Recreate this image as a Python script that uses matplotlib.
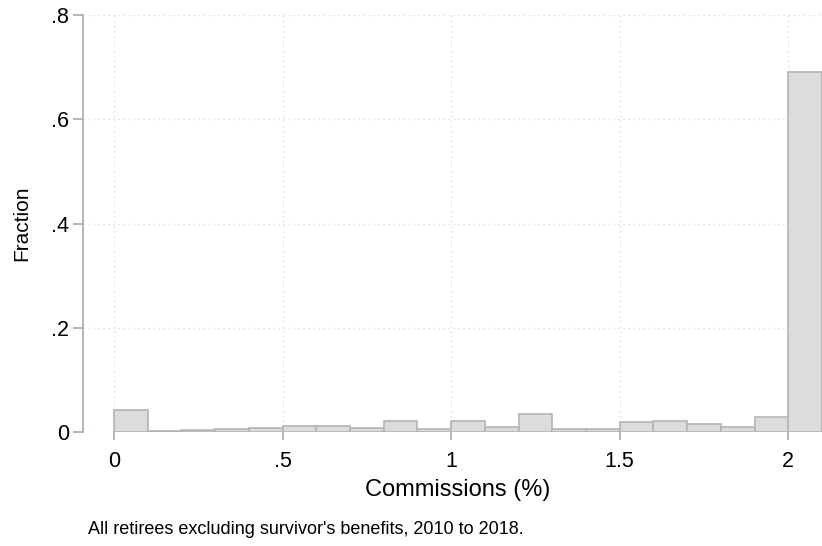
import matplotlib
matplotlib.use("Agg")
import matplotlib.pyplot as plt
import numpy as np

plt.rcParams['font.family'] = ['Liberation Sans', 'DejaVu Sans']

bin_edges = [round(0.1 * i, 1) for i in range(22)]
fractions = [0.042, 0.001, 0.003, 0.005, 0.007, 0.011, 0.011, 0.007, 0.021, 0.005,
             0.022, 0.009, 0.035, 0.006, 0.006, 0.020, 0.021, 0.015, 0.009, 0.029, 0.690]
x_ticks = [0, 0.5, 1, 1.5, 2]
x_tick_labels = ["0", ".5", "1", "1.5", "2"]
y_ticks = [0, 0.2, 0.4, 0.6, 0.8]
y_tick_labels = ["0", ".2", ".4", ".6", ".8"]
x_label = "Commissions (%)"
y_label = "Fraction"
note = "All retirees excluding survivor's benefits, 2010 to 2018."

W, H = 822, 546
fig = plt.figure(figsize=(W / 100, H / 100), dpi=100)
left, right, top, bottom = 83, 822, 15, 432
ax = fig.add_axes([left / W, 1 - bottom / H, (right - left) / W, (bottom - top) / H])

ax.set_xlim(-0.092, 2.1)
ax.set_ylim(0, 0.8)

grid_c = "#d8d8d8"
for yv in y_ticks:
    ax.axhline(yv, color=grid_c, lw=0.9, ls=(0, (1, 3)), zorder=0)
for xv in x_ticks:
    ax.axvline(xv, color=grid_c, lw=0.9, ls=(0, (1, 3)), zorder=0)

widths = np.diff(bin_edges)
ax.bar(bin_edges[:-1], fractions, width=widths, align='edge',
       color="#dcdcdc", edgecolor="#b4b4b4", linewidth=1.2, zorder=2)

for s in ["top", "right", "bottom"]:
    ax.spines[s].set_visible(False)
ax.spines["left"].set_color("#b0b0b0")
ax.spines["left"].set_linewidth(1.3)

ax.set_xticks(x_ticks)
ax.set_xticklabels(x_tick_labels, fontsize=15.5)
ax.set_yticks(y_ticks)
ax.set_yticklabels(y_tick_labels, fontsize=15.5)
ax.tick_params(axis='both', colors="#b0b0b0", labelcolor="black", width=1.3)
ax.tick_params(axis='x', pad=8, length=6)
ax.tick_params(axis='y', pad=3, length=7)

ax.set_xlabel(x_label, fontsize=17, labelpad=8)
ax.xaxis.set_label_coords((458 - left) / (right - left), -(490 - bottom) / (bottom - top))
ax.xaxis.label.set_va('center')
ax.set_ylabel(y_label, fontsize=15)
ax.yaxis.set_label_coords(-(left - 22) / (right - left), 0.5)
ax.yaxis.label.set_va('center')

fig.text(88 / W, 1 - 529 / H, note, fontsize=13, va='center', ha='left')

fig.savefig("out.png", dpi=100)
